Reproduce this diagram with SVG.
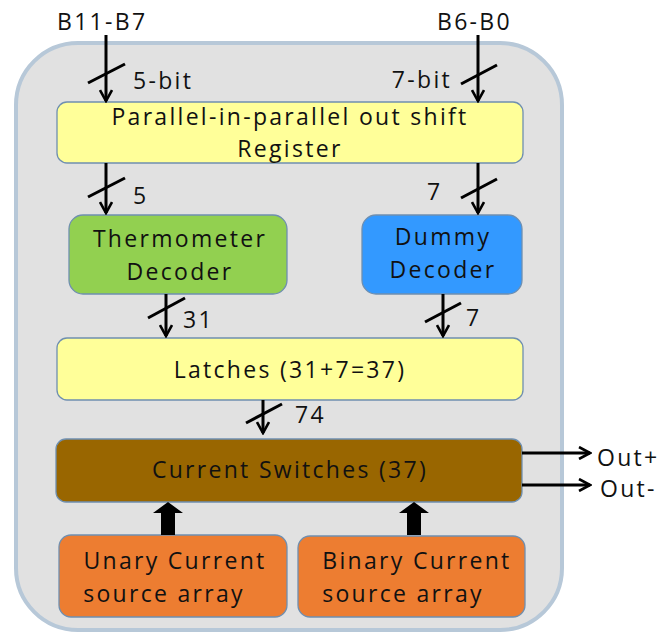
<svg xmlns="http://www.w3.org/2000/svg" width="664" height="634" viewBox="0 0 664 634">
  <style>
    .lbl { font-family: "Open Sans", "Noto Sans", "Liberation Sans", sans-serif; font-size: 23px; letter-spacing: 2.3px; fill: #111; }
    .box { stroke: #6f8fb0; stroke-width: 1.3; }
    .wire { stroke: #000; stroke-width: 3; fill: none; }
    .slash { stroke: #000; stroke-width: 3; }
  </style>
  <defs>
    <marker id="head" viewBox="0 0 14 14" refX="12" refY="7" markerWidth="14" markerHeight="14" markerUnits="userSpaceOnUse" orient="auto">
      <path d="M1,1 L12,7 L1,13" fill="none" stroke="#000" stroke-width="2.6"/>
    </marker>
  </defs>

  <rect width="664" height="634" fill="#fff"/>

  <!-- enclosing chip outline -->
  <g id="chip">
    <rect x="16" y="43" width="546" height="587" rx="62" fill="#e1e1e1" stroke="#b7c8d8" stroke-width="4"/>
  </g>

  <!-- bus inputs -->
  <text class="lbl" x="57" y="30" font-size="25" letter-spacing="0.2">B11-B7</text>
  <text class="lbl" x="437" y="30" font-size="25" letter-spacing="0.2">B6-B0</text>

  <g id="shift-register">
    <rect class="box" x="57" y="102" width="466" height="61" rx="10" fill="#ffff99"/>
    <text class="lbl" x="290" y="125" text-anchor="middle">Parallel-in-parallel out shift</text>
    <text class="lbl" x="290" y="157" text-anchor="middle">Register</text>
  </g>

  <g id="thermometer-decoder">
    <rect class="box" x="69" y="215" width="218" height="79" rx="14" fill="#92d050"/>
    <text class="lbl" x="180" y="247" text-anchor="middle">Thermometer</text>
    <text class="lbl" x="180" y="280" text-anchor="middle">Decoder</text>
  </g>

  <g id="dummy-decoder">
    <rect class="box" x="362" y="215" width="160" height="79" rx="14" fill="#3399ff"/>
    <text class="lbl" x="443" y="245" text-anchor="middle">Dummy</text>
    <text class="lbl" x="443" y="278" text-anchor="middle">Decoder</text>
  </g>

  <g id="latches">
    <rect class="box" x="57" y="338" width="466" height="62" rx="10" fill="#ffff99"/>
    <text class="lbl" x="290" y="378" text-anchor="middle">Latches (31+7=37)</text>
  </g>

  <g id="current-switches">
    <rect class="box" x="56" y="439" width="466" height="63" rx="10" fill="#996600"/>
    <text class="lbl" x="290" y="478" text-anchor="middle">Current Switches (37)</text>
  </g>

  <g id="unary-array">
    <rect class="box" x="59" y="535" width="228" height="82" rx="12" fill="#ed7d31"/>
    <text class="lbl" x="175" y="569" text-anchor="middle">Unary Current</text>
    <text class="lbl" x="164" y="602" text-anchor="middle">source array</text>
  </g>

  <g id="binary-array">
    <rect class="box" x="298" y="536" width="227" height="81" rx="12" fill="#ed7d31"/>
    <text class="lbl" x="417" y="569" text-anchor="middle">Binary Current</text>
    <text class="lbl" x="403" y="602" text-anchor="middle">source array</text>
  </g>

  <g id="connectors">
    <!-- B11-B7 into register -->
    <line class="wire" x1="106" y1="35" x2="106" y2="101" marker-end="url(#head)"/>
    <line class="slash" x1="88" y1="83" x2="125" y2="64"/>
    <text class="lbl" x="133" y="89">5-bit</text>

    <!-- B6-B0 into register -->
    <line class="wire" x1="478" y1="35" x2="478" y2="101" marker-end="url(#head)"/>
    <line class="slash" x1="461" y1="84" x2="497" y2="65"/>
    <text class="lbl" x="452" y="88" text-anchor="end">7-bit</text>

    <!-- register to decoders -->
    <line class="wire" x1="106" y1="163" x2="106" y2="213" marker-end="url(#head)"/>
    <line class="slash" x1="88" y1="197" x2="125" y2="178"/>
    <text class="lbl" x="133" y="204">5</text>

    <line class="wire" x1="478" y1="163" x2="478" y2="213" marker-end="url(#head)"/>
    <line class="slash" x1="461" y1="198" x2="497" y2="179"/>
    <text class="lbl" x="427" y="200">7</text>

    <!-- decoders to latches -->
    <line class="wire" x1="166" y1="294" x2="166" y2="336" marker-end="url(#head)"/>
    <line class="slash" x1="148" y1="318" x2="185" y2="298"/>
    <text class="lbl" x="183" y="328">31</text>

    <line class="wire" x1="443" y1="294" x2="443" y2="336" marker-end="url(#head)"/>
    <line class="slash" x1="425" y1="322" x2="461" y2="303"/>
    <text class="lbl" x="466" y="326">7</text>

    <!-- latches to switches -->
    <line class="wire" x1="263" y1="400" x2="263" y2="433" marker-end="url(#head)"/>
    <line class="slash" x1="246" y1="423" x2="282" y2="404"/>
    <text class="lbl" x="295" y="423">74</text>

    <!-- outputs -->
    <line class="wire" x1="522" y1="453" x2="590" y2="453" marker-end="url(#head)"/>
    <text class="lbl" x="597" y="466" font-size="24" letter-spacing="0.8">Out+</text>
    <line class="wire" x1="522" y1="485" x2="590" y2="485" marker-end="url(#head)"/>
    <text class="lbl" x="600" y="497" font-size="24" letter-spacing="0.8">Out-</text>

    <!-- current source feeds -->
    <path d="M161,535 L161,513 L153,513 L168,502 L183,513 L175,513 L175,535 Z" fill="#000"/>
    <path d="M407,535 L407,513 L399,513 L414,502 L429,513 L421,513 L421,535 Z" fill="#000"/>
  </g>
</svg>
